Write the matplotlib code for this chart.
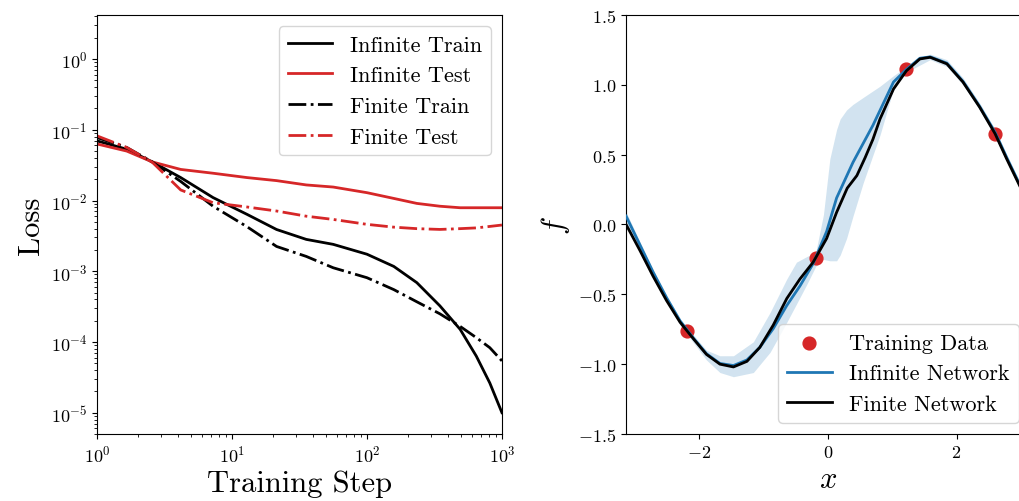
import numpy as np
import matplotlib
matplotlib.use("Agg")
import matplotlib.pyplot as plt
from matplotlib.ticker import LogLocator, NullFormatter

plt.rcParams['font.family'] = 'serif'
plt.rcParams['font.serif'] = ['cmr10']
plt.rcParams['mathtext.fontset'] = 'cm'
plt.rcParams['axes.formatter.use_mathtext'] = True

# ---- left panel: loss curves
steps = [1, 1.66, 2.57, 4.17, 7.24, 12.9, 21.4, 35.5, 56.2, 100, 158, 234, 347, 490, 646, 813, 1000]
inf_train = [0.0697, 0.0531, 0.0351, 0.0211, 0.0110, 0.00638, 0.00389, 0.00282, 0.0024, 0.00174,
             0.00117, 0.00069, 0.000324, 0.000151, 6.3e-5, 2.63e-5, 1.0e-5]
inf_test = [0.063, 0.050, 0.0351, 0.0275, 0.0243, 0.0211, 0.0191, 0.0166, 0.0155, 0.0129,
            0.0107, 0.0091, 0.0083, 0.0079, 0.0079, 0.0079, 0.0079]
fin_train = [0.0776, 0.0562, 0.0351, 0.0186, 0.0083, 0.00427, 0.00224, 0.00162, 0.00112, 0.00081,
             0.00055, 0.00037, 0.00025, 0.000166, 0.000115, 8.3e-5, 5.4e-5]
fin_test = [0.082, 0.0562, 0.0347, 0.0141, 0.0093, 0.0081, 0.0071, 0.0060, 0.0054, 0.0046,
            0.0042, 0.0040, 0.0039, 0.0040, 0.0041, 0.0043, 0.0045]

# ---- right panel: function fits
train_x = [-2.20, -0.19, 1.22, 2.60]
train_f = [-0.76, -0.24, 1.11, 0.65]

fin_x = [-3.14, -2.92, -2.72, -2.51, -2.30, -2.09, -1.89, -1.68, -1.47, -1.26, -1.06, -0.85, -0.64,
         -0.435, -0.23, -0.02, 0.135, 0.30, 0.45, 0.58, 0.70, 0.81, 1.02, 1.22, 1.43, 1.59, 1.85,
         2.10, 2.36, 2.60, 2.78, 2.99, 3.14]
fin_f = [0.0, -0.19, -0.37, -0.545, -0.70, -0.82, -0.93, -1.0, -1.02, -0.98, -0.88, -0.72, -0.53,
         -0.39, -0.27, -0.10, 0.087, 0.26, 0.35, 0.48, 0.61, 0.755, 0.97, 1.10, 1.185, 1.197, 1.15,
         1.02, 0.84, 0.65, 0.47, 0.27, 0.12]

inf_x = [-3.14, -2.92, -2.72, -2.51, -2.30, -2.09, -1.89, -1.68, -1.47, -1.26, -1.06, -0.85, -0.64,
         -0.435, -0.23, -0.02, 0.135, 0.39, 0.70, 1.02, 1.22, 1.43, 1.59, 1.85, 2.10, 2.36, 2.60,
         2.78, 2.99, 3.14]
inf_f = [0.06, -0.15, -0.34, -0.525, -0.69, -0.815, -0.925, -0.995, -1.01, -0.97, -0.88, -0.745, -0.58,
         -0.44, -0.28, -0.05, 0.19, 0.445, 0.71, 1.02, 1.11, 1.19, 1.20, 1.155, 1.025, 0.845, 0.66,
         0.48, 0.28, 0.13]

band_x = [-3.14, -2.72, -2.30, -1.89, -1.68, -1.47, -1.16, -0.90, -0.64, -0.49, -0.33, -0.19, -0.07,
          0.03, 0.135, 0.19, 0.29, 0.39, 0.55, 0.81, 1.02, 1.22, 1.59, 1.85, 2.10, 2.36, 2.60, 2.99, 3.14]
band_hi = [0.09, -0.33, -0.68, -0.90, -0.94, -0.94, -0.84, -0.63, -0.39, -0.27, -0.23, -0.20, 0.07,
           0.47, 0.68, 0.755, 0.82, 0.86, 0.91, 0.99, 1.065, 1.13, 1.22, 1.18, 1.05, 0.87, 0.68, 0.29, 0.14]
band_lo = [0.0, -0.39, -0.72, -0.97, -1.06, -1.09, -1.06, -0.915, -0.70, -0.57, -0.43, -0.30, -0.25,
           -0.26, -0.26, -0.22, -0.10, 0.06, 0.30, 0.64, 0.97, 1.09, 1.18, 1.13, 1.0, 0.82, 0.63, 0.25, 0.10]

red = '#d62728'
blue = '#1f77b4'

fig = plt.figure(figsize=(10.2, 5.02), dpi=100)
ax1 = fig.add_axes([0.0951, 0.1335, 0.397, 0.8347])
ax2 = fig.add_axes([0.6137, 0.1335, 0.396, 0.8347])

ax1.loglog(steps, inf_train, color='k', lw=2, label='Infinite Train')
ax1.loglog(steps, inf_test, color=red, lw=2, label='Infinite Test')
ax1.loglog(steps, fin_train, color='k', lw=2, ls='-.', label='Finite Train')
ax1.loglog(steps, fin_test, color=red, lw=2, ls='-.', label='Finite Test')
ax1.set_xlim(1, 1000)
ax1.set_ylim(5e-6, 4.2)
ax1.yaxis.set_major_locator(LogLocator(base=10, numticks=20))
ax1.yaxis.set_minor_locator(LogLocator(base=10, subs=np.arange(2, 10), numticks=100))
ax1.yaxis.set_minor_formatter(NullFormatter())
ax1.set_xlabel('Training Step', fontsize=22)
ax1.set_ylabel('Loss', fontsize=22)
ax1.tick_params(labelsize=13)
ax1.legend(loc='upper right', fontsize=16)

ax2.scatter(train_x, train_f, s=85, color=red, label='Training Data', zorder=2)
ax2.fill_between(band_x, band_lo, band_hi, color=blue, alpha=0.2, lw=0)
ax2.plot(inf_x, inf_f, color=blue, lw=2, label='Infinite Network', zorder=3)
ax2.plot(fin_x, fin_f, color='k', lw=2, label='Finite Network', zorder=4)
ax2.set_xlim(-np.pi, np.pi)
ax2.set_ylim(-1.5, 1.5)
ax2.set_xticks([-2, 0, 2])
ax2.set_yticks([-1.5, -1.0, -0.5, 0.0, 0.5, 1.0, 1.5])
ax2.set_xlabel('$x$', fontsize=22)
ax2.set_ylabel('$f$', fontsize=22)
ax2.tick_params(labelsize=13)
ax2.legend(loc='lower right', fontsize=16)

fig.savefig('out.png', dpi=100)
